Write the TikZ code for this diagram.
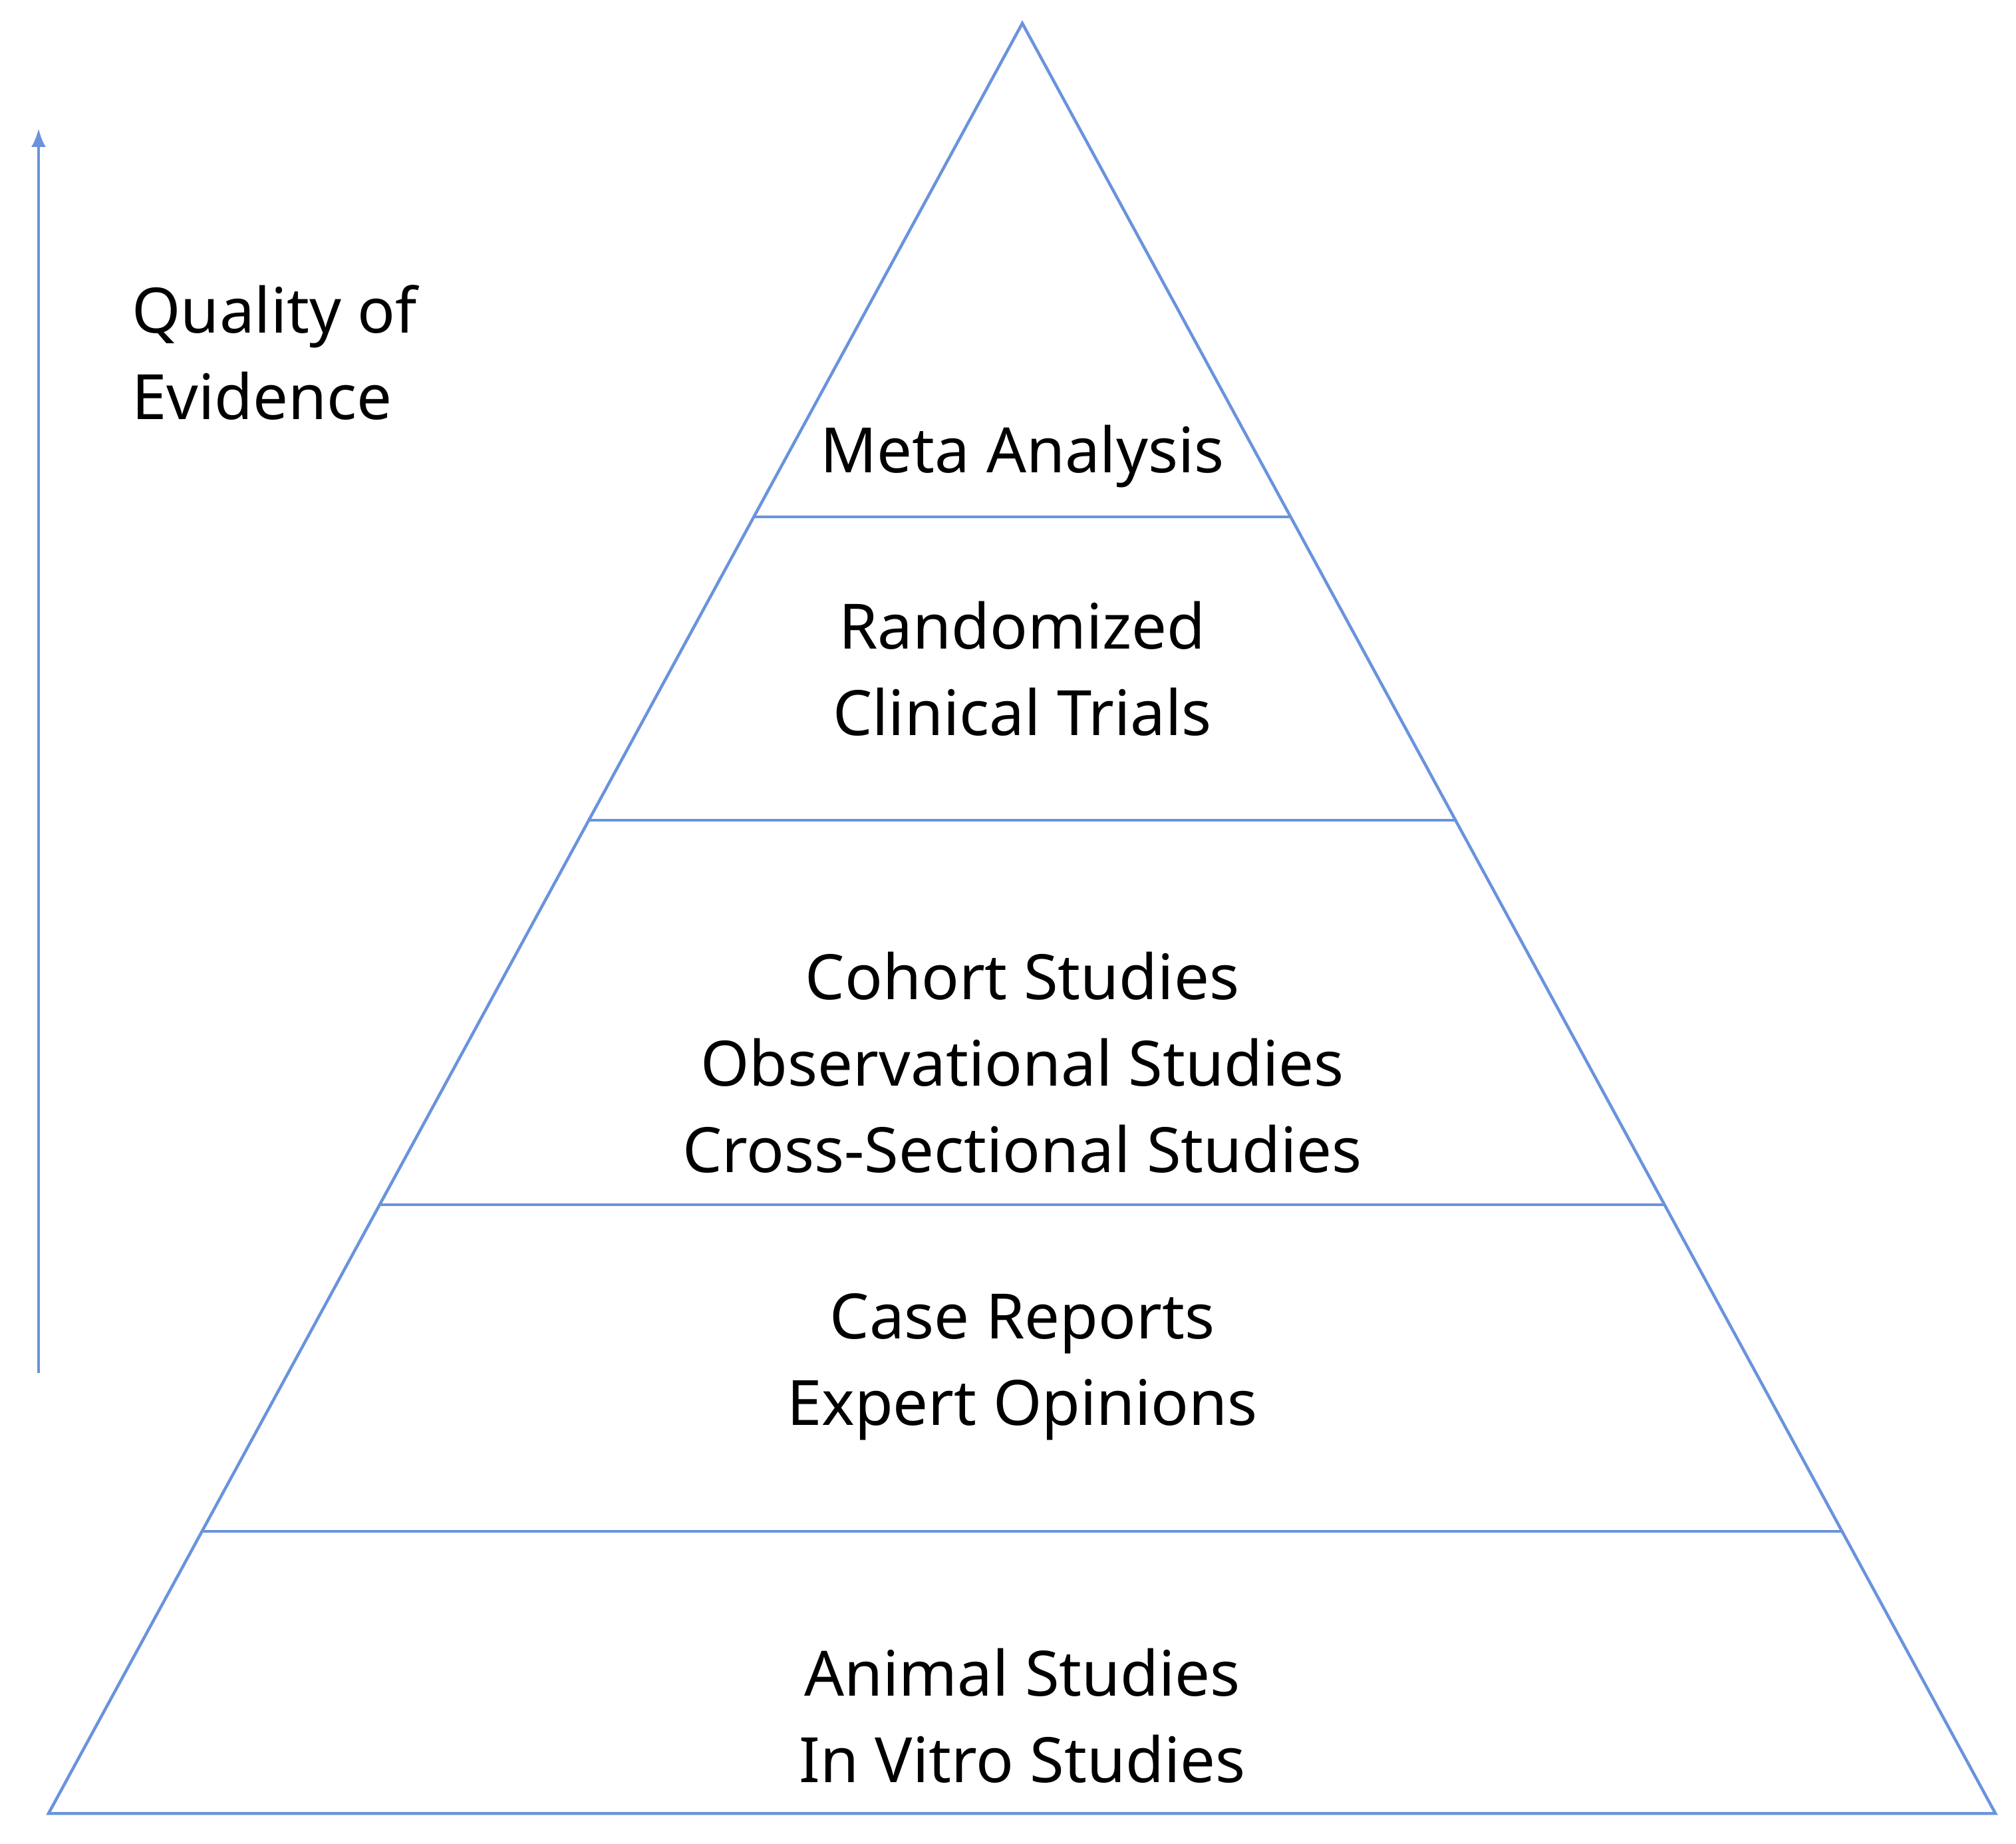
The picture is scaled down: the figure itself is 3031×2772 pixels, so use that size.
\documentclass[tikz,border=0pt]{standalone}
\usepackage{fontspec}
\setmainfont{Noto Sans}
\usetikzlibrary{arrows.meta}
\begin{document}
\begin{tikzpicture}[x=1pt,y=-1pt,
  lbl/.style={align=center,font=\fontsize{94}{130}\selectfont}]
\definecolor{pyr}{HTML}{6A93DC}
\useasboundingbox (0,0) rectangle (3031,2772);
\coordinate (A) at (1537,35);
\coordinate (L) at (73,2726);
\coordinate (R) at (3000,2726);
\draw[pyr,line width=4.5pt,line join=miter] (A) -- (L) -- (R) -- cycle;
\foreach \y/\n in {777/a,1233/b,1811/c,2302/d}{
  \path (A) -- (L) coordinate[pos={(\y-35)/2691}] (l\n);
  \path (A) -- (R) coordinate[pos={(\y-35)/2691}] (r\n);
  \draw[pyr,line width=4.5pt] (l\n) -- (r\n);
}
\node[lbl] (m) at (1537,686) {Meta Analysis};
\node[lbl] (r) at (1537,1005) {Randomized\\Clinical Trials};
\node[lbl] (c) at (1537,1597) {Cohort Studies\\Observational Studies\\Cross-Sectional Studies};
\node[lbl] (e) at (1537,2055) {Case Reports\\Expert Opinions};
\node[lbl] (an) at (1537,2579) {Animal Studies\\In Vitro Studies};
\node[lbl,align=left,anchor=west] (q) at (195,530) {Quality of\\Evidence};
\coordinate (s) at (58,2064);
\coordinate (t) at (58,193);
\draw[pyr,line width=4.5pt,-{Latex[length=28pt,width=22pt]}] (s) -- (t);
\end{tikzpicture}
\end{document}
